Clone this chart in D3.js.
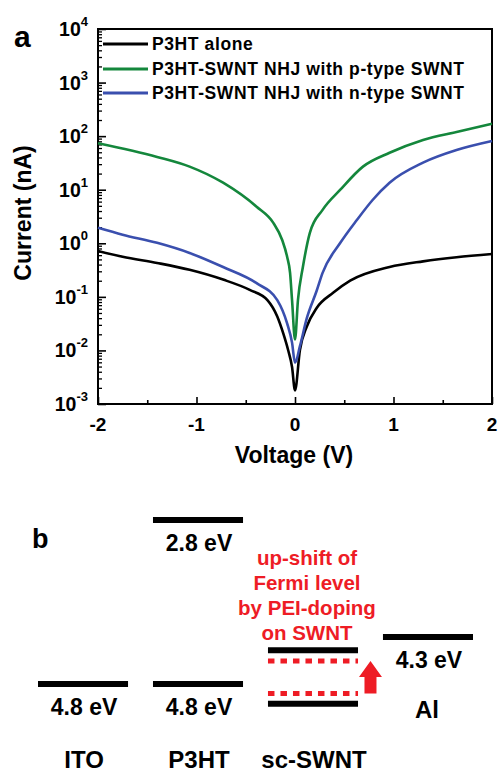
<!DOCTYPE html>
<html><head><meta charset="utf-8">
<script src="https://cdn.jsdelivr.net/npm/d3@7"></script>
<style>
body{margin:0;background:#fff;}
svg{display:block;font-family:"Liberation Sans",Arial,sans-serif;}
</style></head>
<body><svg id="c" width="500" height="775"></svg>
<script>
// ---------- Panel a data ----------
const seriesNames = ["P3HT alone","P3HT-SWNT NHJ with p-type SWNT","P3HT-SWNT NHJ with n-type SWNT"];
const seriesColors = ["#000000","#14873c","#3a4fae"];
const blackV = [-2,-1.75,-1.4,-1.07,-0.73,-0.46,-0.28,-0.18,-0.12,-0.07,-0.03,0,0.05,0.12,0.22,0.39,0.56,0.96,1.3,1.64,2];
const blackI = [0.72,0.56,0.43,0.32,0.21,0.135,0.087,0.043,0.021,0.0102,0.0049,0.0018,0.0102,0.028,0.062,0.12,0.2,0.36,0.46,0.55,0.63];
const greenV = [-2,-1.4,-1.07,-0.73,-0.39,-0.22,-0.13,-0.08,-0.05,-0.03,0,0.03,0.08,0.15,0.28,0.46,0.69,0.96,1.3,1.64,2];
const greenI = [74,41,27,13.5,4.8,2.4,1.15,0.56,0.28,0.087,0.016,0.087,0.36,1.55,4.2,10,27,49,85,120,170];
const blueV = [-2,-1.75,-1.4,-1.07,-0.73,-0.39,-0.18,-0.08,-0.03,0,0.05,0.12,0.22,0.28,0.46,0.63,0.79,0.96,1.3,1.64,2];
const blueI = [1.95,1.45,1.02,0.66,0.36,0.18,0.087,0.032,0.014,0.0059,0.012,0.04,0.13,0.28,1.02,2.75,6.5,13.5,32,55,81];
const xTicks = [-2,-1,0,1,2];
const yExps = [-3,-2,-1,0,1,2,3,4];

// ---------- Panel b data ----------
const materials = ["ITO","P3HT","sc-SWNT","Al"];
const levelMaterial = ["ITO","P3HT","P3HT","Al","sc-SWNT","sc-SWNT"];
const levelEnergy   = [4.8, 4.8, 2.8, 4.3, 4.44, 5.01];
const levelLabel    = ["4.8 eV","4.8 eV","2.8 eV","4.3 eV","",""];
const dashedEnergy  = [4.555, 4.9];
const noteLines = ["up-shift of","Fermi level","by PEI-doping","on SWNT"];

const svg = d3.select("#c");

// ---------- Panel a ----------
const x = d3.scaleLinear().domain([-2,2]).range([98,492]);
const y = d3.scaleLog().domain([1e-3,1e4]).range([404,29]);

// frame
svg.append("rect").attr("x",98).attr("y",29).attr("width",394).attr("height",375)
  .attr("fill","none").attr("stroke","#000").attr("stroke-width",2);

// y axis ticks (inward)
const minorY = [];
for (let e=-3;e<4;e++) for (let m=2;m<=9;m++) minorY.push(m*Math.pow(10,e));
const yMajor = d3.axisRight(y).tickValues(yExps.map(e=>Math.pow(10,e))).tickSize(8).tickFormat("");
const yMinor = d3.axisRight(y).tickValues(minorY).tickSize(4).tickFormat("");
svg.append("g").attr("transform","translate(98,0)").call(yMajor).call(g=>{g.select(".domain").remove();g.selectAll("line").attr("stroke-width",1.6);});
svg.append("g").attr("transform","translate(98,0)").call(yMinor).call(g=>{g.select(".domain").remove();g.selectAll("line").attr("stroke-width",1.3);});

// x axis ticks (inward)
const xMajor = d3.axisTop(x).tickValues(xTicks).tickSize(7).tickFormat("");
const xMinor = d3.axisTop(x).tickValues([-1.5,-0.5,0.5,1.5]).tickSize(4).tickFormat("");
svg.append("g").attr("transform","translate(0,404)").call(xMajor).call(g=>{g.select(".domain").remove();g.selectAll("line").attr("stroke-width",1.6);});
svg.append("g").attr("transform","translate(0,404)").call(xMinor).call(g=>{g.select(".domain").remove();g.selectAll("line").attr("stroke-width",1.6);});

// y tick labels
const yl = svg.append("g").attr("font-weight","bold").attr("fill","#000");
yExps.forEach(e=>{
  const t = yl.append("text").attr("x",88).attr("y",y(Math.pow(10,e))+7).attr("text-anchor","end").attr("font-size",19.5);
  t.append("tspan").text("10");
  t.append("tspan").attr("dy",-10).attr("font-size",13).text(e);
});
// x tick labels
svg.append("g").selectAll("text").data(xTicks).join("text")
  .attr("x",d=>x(d)).attr("y",431).attr("text-anchor","middle")
  .attr("font-size",19).attr("font-weight","bold").text(d=>d<0?"-"+Math.abs(d):d);

// axis titles
svg.append("text").attr("x",294).attr("y",463).attr("text-anchor","middle")
  .attr("font-size",23).attr("font-weight","bold").text("Voltage (V)");
svg.append("text").attr("transform","translate(31,213) rotate(-90)").attr("text-anchor","middle")
  .attr("font-size",23).attr("font-weight","bold").text("Current (nA)");
svg.append("text").attr("x",14).attr("y",47).attr("font-size",30).attr("font-weight","bold").text("a");

// curves
const line = d3.line().x(d=>x(d[0])).y(d=>y(d[1])).curve(d3.curveMonotoneX);
const series = [[blackV,blackI],[greenV,greenI],[blueV,blueI]];
const drawOrder = [0,2,1];
drawOrder.forEach(i=>{
  const [vs,is] = series[i];
  svg.append("path").datum(vs.map((v,k)=>[v,is[k]]))
    .attr("d",line).attr("fill","none").attr("stroke",seriesColors[i]).attr("stroke-width",2.6);
});

// legend
const legY = [44,69,93];
seriesNames.forEach((n,i)=>{
  svg.append("line").attr("x1",103).attr("x2",148).attr("y1",legY[i]).attr("y2",legY[i])
    .attr("stroke",seriesColors[i]).attr("stroke-width",3);
  svg.append("text").attr("x",152).attr("y",legY[i]+6).attr("font-size",17.5)
    .attr("font-weight","bold").attr("letter-spacing",0.6).text(n);
});

// ---------- Panel b ----------
const bx = d3.scaleBand().domain(materials).range([38,473]).paddingInner(0.217).paddingOuter(0);
const ey = d3.scaleLinear().domain([2.8,4.3,4.8]).range([520,637,684]);

svg.append("text").attr("x",32).attr("y",548).attr("font-size",27).attr("font-weight","bold").text("b");

levelMaterial.forEach((m,i)=>{
  const x0 = bx(m), yy = ey(levelEnergy[i]);
  svg.append("line").attr("x1",x0).attr("x2",x0+bx.bandwidth()).attr("y1",yy).attr("y2",yy)
    .attr("stroke","#000").attr("stroke-width",6);
  if (levelLabel[i]) {
    svg.append("text").attr("x",x0+bx.bandwidth()/2+1).attr("y",yy+31).attr("text-anchor","middle")
      .attr("font-size",23).attr("font-weight","bold").text(levelLabel[i]);
  }
});
dashedEnergy.forEach(en=>{
  const x0 = bx("sc-SWNT"), yy = ey(en);
  svg.append("line").attr("x1",x0).attr("x2",x0+bx.bandwidth()).attr("y1",yy).attr("y2",yy)
    .attr("stroke","#ee1c25").attr("stroke-width",5).attr("stroke-dasharray","6.5,6");
});
// arrow
{
  const xa = bx("sc-SWNT")+bx.bandwidth(), xb = bx("Al");
  const cx = (xa+xb)/2, top = ey(dashedEnergy[0]), bot = ey(dashedEnergy[1]);
  const headH = 16;
  svg.append("path").attr("fill","#ee1c25")
    .attr("d",`M${cx},${top} L${xb-1},${top+headH} L${cx+6},${top+headH} L${cx+6},${bot} L${cx-6},${bot} L${cx-6},${top+headH} L${xa+1},${top+headH} Z`);
}
// red note
svg.append("g").selectAll("text").data(noteLines).join("text")
  .attr("x",307).attr("y",(d,i)=>565+i*25).attr("text-anchor","middle")
  .attr("font-size",20.5).attr("font-weight","bold").attr("fill","#ee1c25").text(d=>d);
// Al label
svg.append("text").attr("x",bx("Al")+bx.bandwidth()/2-1).attr("y",718).attr("text-anchor","middle")
  .attr("font-size",24).attr("font-weight","bold").text("Al");
// material labels
["ITO","P3HT","sc-SWNT"].forEach(m=>{
  svg.append("text").attr("x",bx(m)+bx.bandwidth()/2+1).attr("y",768).attr("text-anchor","middle")
    .attr("font-size",24).attr("font-weight","bold").text(m);
});
</script></body></html>
